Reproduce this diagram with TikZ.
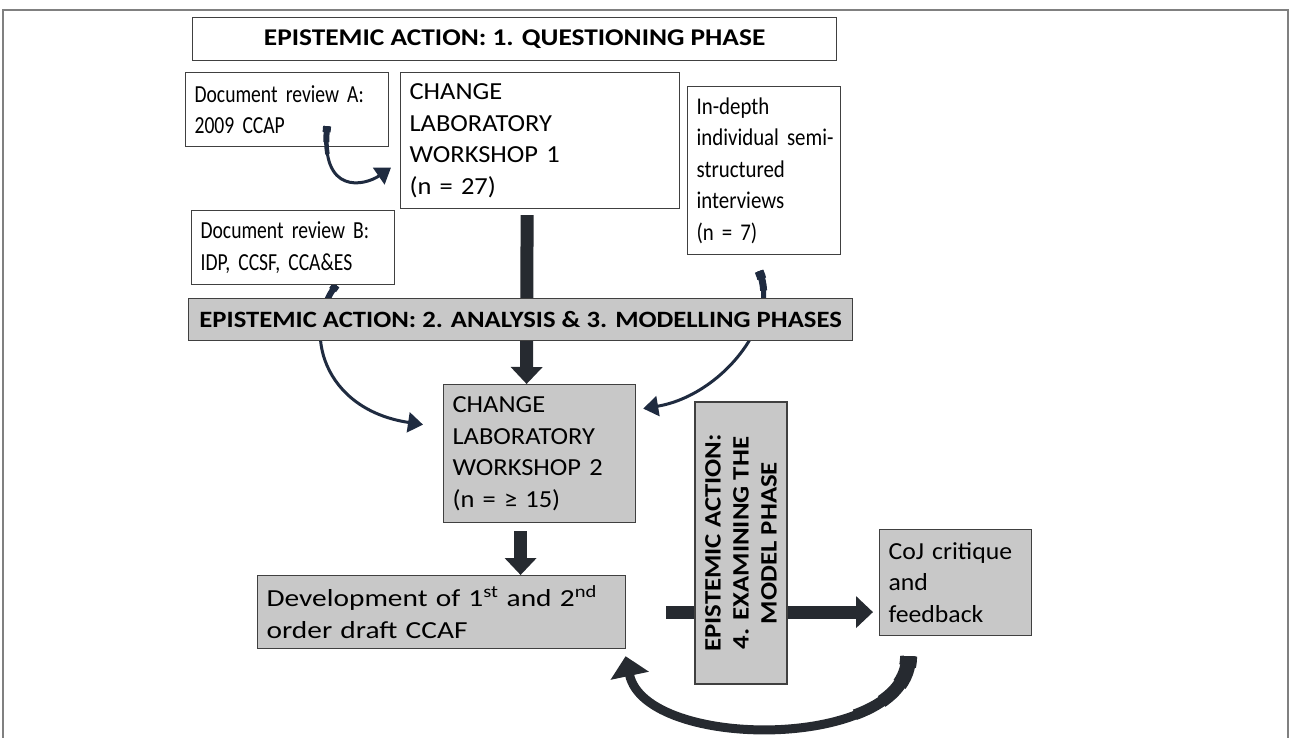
\documentclass[tikz,border=0pt]{standalone}
\usepackage{fontspec}
\setmainfont{Carlito}
\newfontfamily\docfont[FakeStretch=0.8]{Carlito}
\newfontfamily\intfont[FakeStretch=0.87]{Carlito}
\newfontfamily\wsfont[FakeStretch=1.08]{Carlito}
\newfontfamily\devfont[FakeStretch=1.2]{Carlito}
\newfontfamily\cojfont[FakeStretch=1.05]{Carlito}
\newfontfamily\phasefont[FakeStretch=1.14]{Carlito}
\usetikzlibrary{arrows.meta,backgrounds}

\definecolor{boxgrey}{HTML}{C8C8C8}
\definecolor{boxline}{HTML}{404040}
\definecolor{arrowdark}{HTML}{262A30}
\definecolor{curvedark}{HTML}{1F2B40}
\definecolor{framegrey}{HTML}{808080}

\tikzset{
	box/.style={draw=boxline, line width=1.2pt, fill=white, anchor=north west, align=left,
		inner xsep=9pt, inner ysep=0pt},
	greybox/.style={box, fill=boxgrey},
	doctext/.style={font=\docfont\fontsize{24.5}{31.5}\selectfont},
	wstext/.style={font=\wsfont\fontsize{24.5}{31.5}\selectfont},
	phase/.style={draw=boxline, line width=1.2pt, fill=white, anchor=north west, align=center,
		inner sep=0pt, font=\phasefont\bfseries\fontsize{24}{28}\selectfont},
	bigarrow/.style={arrowdark, line width=13pt, -{Triangle[width=31pt,length=17pt]}},
	thincurve/.style={curvedark, line width=3pt, -{Triangle[width=20pt,length=15pt]}},
	fatcurve/.style={arrowdark, line width=9pt, -{Triangle[width=38pt,length=20pt]}},
	taper/.style={line width=#1, line cap=butt}
}

\begin{document}
\begin{tikzpicture}[x=1pt, y=-1pt]

	\useasboundingbox (0,0) rectangle (1290,738);
	\draw[framegrey, line width=1.5pt] (3,745) -- (3,10) -- (1288,10) -- (1288,745);

% Fase 1
	\node[phase, minimum width=644pt, minimum height=43pt] (qphase) at (192,17)
		{EPISTEMIC ACTION: 1. QUESTIONING PHASE};
	\node[box, doctext, text width=185pt, minimum height=74pt] (docA) at (185,72)
		{\mbox{Document review A:}\\2009 CCAP};
	\node[box, wstext, text width=261pt, minimum height=136pt] (ws1) at (400,72)
		{CHANGE\\LABORATORY\\WORKSHOP 1\\(n = 27)};
	\node[box, font=\intfont\fontsize{24}{31.5}\selectfont, text width=135pt, minimum height=168pt] (interv) at (687,86)
		{In-depth\\\mbox{individual semi-}\\structured\\interviews\\(n = 7)};
	\node[box, doctext, text width=185pt, minimum height=74pt] (docB) at (191,210)
		{\mbox{Document review B:}\\IDP, CCSF, CCA\&ES};

% Fases 2 e 3
	\node[phase, fill=boxgrey, minimum width=664pt, minimum height=42pt,
		font=\phasefont\bfseries\fontsize{23.4}{28}\selectfont] (amphase) at (188,298)
		{EPISTEMIC ACTION: 2. ANALYSIS \& 3. MODELLING PHASES};
	\node[greybox, wstext, text width=174pt, minimum height=138pt] (ws2) at (443,384)
		{CHANGE\\LABORATORY\\WORKSHOP 2\\(n = ≥ 15)};
	\node[greybox, font=\devfont\fontsize{24.5}{31.5}\selectfont, text width=350pt, minimum height=73pt] (dev) at (257,575)
		{Development of 1\textsuperscript{st} and 2\textsuperscript{nd}\\order draft CCAF};

% Fase 4
	\node[phase, fill=boxgrey, anchor=center, rotate=90, minimum width=282pt, minimum height=92pt,
		font=\phasefont\bfseries\fontsize{23.5}{28}\selectfont] (exphase) at (741,543)
		{EPISTEMIC ACTION:\\4. EXAMINING THE\\MODEL PHASE};
	\node[greybox, font=\cojfont\fontsize{24.5}{31.5}\selectfont, text width=134pt, minimum height=106pt] (coj) at (879,529)
		{CoJ critique\\and\\feedback};

% Pontos das setas curvas
	\coordinate (aOut) at ([xshift=40pt,yshift=21pt]docA.south);
	\coordinate (ws1In) at ([xshift=-9pt,yshift=-27pt]ws1.west);
	\coordinate (bOut) at ([xshift=43pt]docB.south);
	\coordinate (ws2InL) at ([xshift=-20pt,yshift=29pt]ws2.west);
	\coordinate (intOut) at ([xshift=-5pt,yshift=-16pt]interv.south);
	\coordinate (ws2InR) at ([xshift=7pt,yshift=45pt]ws2.east);
	\coordinate (cojOut) at ([xshift=-47pt,yshift=-20pt]coj.south);
	\coordinate (devIn) at ([xshift=184pt,yshift=-7pt]dev.south);

% Setas
	\foreach \w/\l in {8/6, 6/16, 4.5/28}
		\draw[curvedark, taper=\w pt, dash pattern=on \l pt off 999pt]
			(aOut) .. controls +(-7,70) and +(-26,18) .. (ws1In);
	\draw[thincurve] (aOut) .. controls +(-7,70) and +(-26,18) .. (ws1In);

	\begin{scope}[on background layer]
		\draw[bigarrow, shorten <=6pt] ([xshift=-13pt]ws1.south) -- ([xshift=-13pt]ws2.north);
		\draw[bigarrow, shorten <=8pt] ([xshift=-19pt]ws2.south) -- ([xshift=79pt]dev.north);
		\draw[bigarrow, shorten <=40pt, shorten >=6pt] (dev.east) -- (coj.west |- dev.east);

		\foreach \w/\l in {8/6, 6/18, 4.5/32}
			\draw[curvedark, taper=\w pt, dash pattern=on \l pt off 999pt]
				(bOut) .. controls +(-35,45) and +(-100,-15) .. (ws2InL);
		\draw[thincurve] (bOut) .. controls +(-35,45) and +(-100,-15) .. (ws2InL);

		\foreach \w/\l in {9/8, 7/20, 5/34}
			\draw[curvedark, taper=\w pt, dash pattern=on \l pt off 999pt]
				(intOut) .. controls +(22,50) and +(78,-13) .. (ws2InR);
		\draw[thincurve] (intOut) .. controls +(22,50) and +(78,-13) .. (ws2InR);

		\foreach \w/\l in {17/10, 15/30, 13/55, 11/85}
			\draw[arrowdark, taper=\w pt, dash pattern=on \l pt off 999pt]
				(cojOut) .. controls +(0,95) and +(20,95) .. (devIn);
		\draw[fatcurve] (cojOut) .. controls +(0,95) and +(20,95) .. (devIn);
	\end{scope}

\end{tikzpicture}
\end{document}
